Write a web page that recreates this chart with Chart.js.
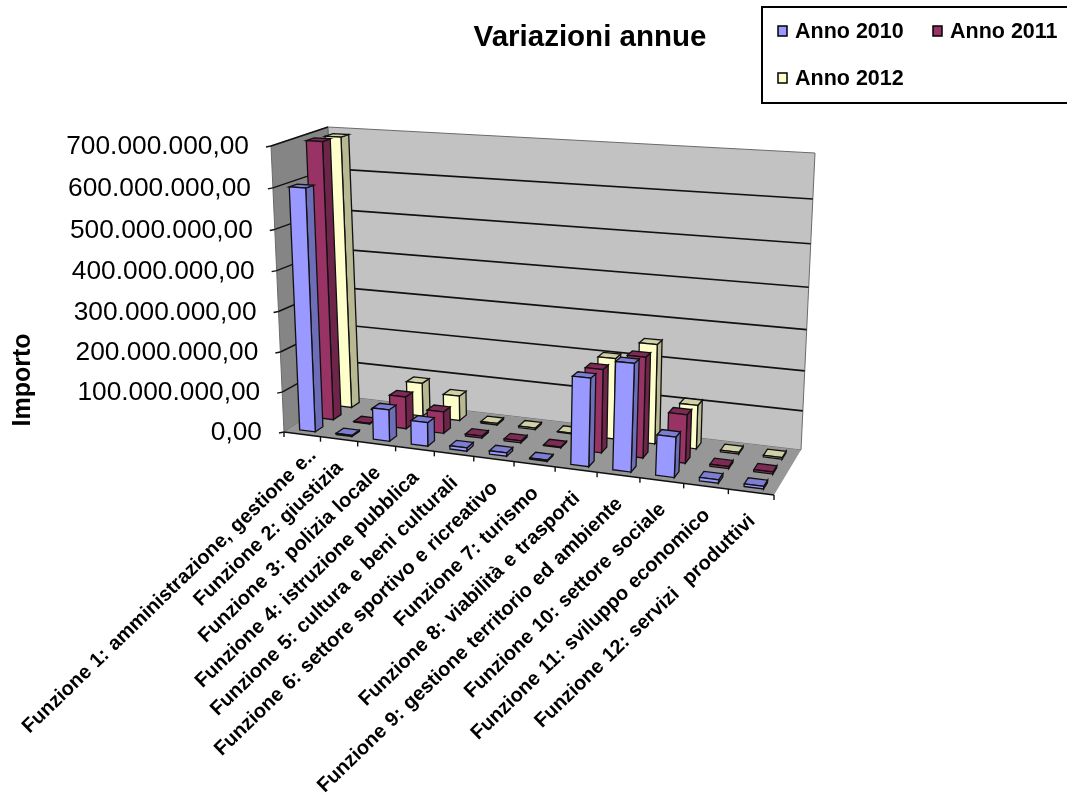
<!DOCTYPE html>
<html>
<head>
<meta charset="utf-8">
<title>Variazioni annue</title>
<script src="https://cdn.jsdelivr.net/npm/chart.js@4"></script>
<style>
    html, body { margin: 0; padding: 0; background: #fff; overflow: hidden; }
    #box { position: relative; width: 1067px; height: 805px; }
    canvas { filter: blur(0.5px); }
</style>
</head>
<body>
<div id="box"><canvas id="grafico" width="1067" height="805"></canvas></div>
<script>
const categorie = [
    'Funzione 1: amministrazione, gestione e..',
    'Funzione 2: giustizia',
    'Funzione 3: polizia locale',
    'Funzione 4: istruzione pubblica',
    'Funzione 5: cultura e beni culturali',
    'Funzione 6: settore sportivo e ricreativo',
    'Funzione 7: turismo',
    'Funzione 8: viabilità e trasporti',
    'Funzione 9: gestione territorio ed ambiente',
    'Funzione 10: settore sociale',
    'Funzione 11: sviluppo economico',
    'Funzione 12: servizi  produttivi'
];
const anno2010 = [600000000, 3000000, 78000000, 58000000, 8000000, 8000000, 3000000, 210000000, 255000000, 95000000, 8000000, 6000000];
const anno2011 = [695000000, 2000000, 82000000, 55000000, 5000000, 5000000, 2000000, 205000000, 245000000, 118000000, 5000000, 5000000];
const anno2012 = [690000000, 2000000, 88000000, 65000000, 4000000, 4000000, 2000000, 205000000, 250000000, 110000000, 4000000, 4000000];
const tickLabels = ['0,00', '100.000.000,00', '200.000.000,00', '300.000.000,00', '400.000.000,00', '500.000.000,00', '600.000.000,00', '700.000.000,00'];

const FONT = '"Liberation Sans", Arial, sans-serif';

// angoli della scatola 3D: f = davanti, b = dietro, l/r = sinistra/destra, 0 = pavimento, 1 = cima
const box3d = {
    fl0: [284, 432], fr0: [774, 495], bl0: [340, 396], br0: [801, 450],
    fl1: [271, 146], fr1: [793, 179], bl1: [328, 127], br1: [815, 153]
};
const prospettiva = 0.13;

function lerp(a, b, t) { return a + (b - a) * t; }

// u = lungo le categorie, w = profondità, v = altezza (tutti 0..1)
function proietta(u, w, v) {
    const uu = u / (1 + prospettiva * (1 - u));
    const cv = 0.03 + 0.07 * w;
    const vv = v / (1 + cv * (1 - v));
    const punto = [0, 1].map(i => {
        const f0 = lerp(box3d.fl0[i], box3d.fr0[i], uu);
        const b0 = lerp(box3d.bl0[i], box3d.br0[i], uu);
        const f1 = lerp(box3d.fl1[i], box3d.fr1[i], uu);
        const b1 = lerp(box3d.bl1[i], box3d.br1[i], uu);
        return lerp(lerp(f0, b0, w), lerp(f1, b1, w), vv);
    });
    return punto;
}

function scurisci(hex, k) {
    const n = parseInt(hex.slice(1), 16);
    const r = Math.round((n >> 16 & 255) * k), g = Math.round((n >> 8 & 255) * k), b = Math.round((n & 255) * k);
    return `rgb(${r},${g},${b})`;
}

function quad(ctx, pts, fill, stroke, lw) {
    ctx.beginPath();
    pts.forEach((p, i) => i ? ctx.lineTo(p[0], p[1]) : ctx.moveTo(p[0], p[1]));
    ctx.closePath();
    if (fill) { ctx.fillStyle = fill; ctx.fill(); }
    if (stroke) { ctx.strokeStyle = stroke; ctx.lineWidth = lw || 1; ctx.stroke(); }
}

function linea(ctx, a, b, color, lw) {
    ctx.beginPath();
    ctx.moveTo(a[0], a[1]);
    ctx.lineTo(b[0], b[1]);
    ctx.strokeStyle = color;
    ctx.lineWidth = lw;
    ctx.stroke();
}

const grafico3d = {
    id: 'grafico3d',
    beforeDatasetsDraw(chart) {
        const ctx = chart.ctx;
        const xs = chart.scales.x, ys = chart.scales.y;
        ctx.save();

        // pareti e pavimento
        quad(ctx, [proietta(0, 0, 0), proietta(0, 1, 0), proietta(0, 1, 1), proietta(0, 0, 1)], '#858585', '#6a6a6a');
        quad(ctx, [proietta(0, 1, 0), proietta(1, 1, 0), proietta(1, 1, 1), proietta(0, 1, 1)], '#c2c2c2', '#6a6a6a');
        quad(ctx, [proietta(0, 0, 0), proietta(1, 0, 0), proietta(1, 1, 0), proietta(0, 1, 0)], '#979797');

        // griglia e tacche asse valori
        ys.ticks.forEach((t, i) => {
            const v = (ys.bottom - ys.getPixelForValue(t.value)) / ys.height;
            const a = proietta(0, 0, v), b = proietta(0, 1, v), c = proietta(1, 1, v);
            if (i > 0) {
                linea(ctx, a, b, '#111', 1.4);
                if (i < ys.ticks.length - 1) linea(ctx, b, c, '#111', 1.7);
            }
            linea(ctx, [a[0] - 5, a[1] + 1], a, '#111', 1.4);
            ctx.font = `26.3px ${FONT}`;
            ctx.fillStyle = '#000';
            ctx.textAlign = 'right';
            ctx.textBaseline = 'middle';
            ctx.fillText(tickLabels[i], a[0] - 22, a[1] + 1);
        });

        // asse categorie
        linea(ctx, proietta(0, 0, 0), proietta(1, 0, 0), '#111', 1.4);
        categorie.forEach((c, i) => {
            const p = proietta((xs.getPixelForValue(i) - xs.width / 24 - xs.left) / xs.width, 0, 0);
            linea(ctx, p, [p[0], p[1] + 5], '#111', 1.4);
        });
        const fine = proietta(1, 0, 0);
        linea(ctx, fine, [fine[0], fine[1] + 5], '#111', 1.4);

        ctx.font = `bold 20px ${FONT}`;
        ctx.wordSpacing = '1px';
        ctx.fillStyle = '#000';
        ctx.textAlign = 'right';
        ctx.textBaseline = 'middle';
        categorie.forEach((c, i) => {
            const p = proietta((xs.getPixelForValue(i) - xs.left) / xs.width, 0, 0);
            ctx.save();
            // la prima etichetta è troncata e finisce più in alto delle altre
            if (i === 0) ctx.translate(p[0] + 11, p[1] + 18);
            else ctx.translate(p[0] + 1, p[1] + 26);
            ctx.rotate(-44 * Math.PI / 180);
            ctx.fillText(c, 0, 0);
            ctx.restore();
        });
        ctx.wordSpacing = '0px';

        // barre: dalla serie in fondo a quella davanti
        const n = chart.data.datasets.length;
        for (let k = n - 1; k >= 0; k--) {
            const ds = chart.data.datasets[k];
            const w0 = (k + 0.5) / n - 0.07, w1 = (k + 0.5) / n + 0.07;
            chart.getDatasetMeta(k).data.forEach(el => {
                const u0 = (el.x - el.width / 2 - xs.left) / xs.width;
                const u1 = (el.x + el.width / 2 - xs.left) / xs.width;
                const v = (ys.bottom - el.y) / ys.height;
                quad(ctx, [proietta(u1, w0, 0), proietta(u1, w1, 0), proietta(u1, w1, v), proietta(u1, w0, v)], scurisci(ds.backgroundColor, 0.72), '#111', 1.3);
                quad(ctx, [proietta(u0, w0, v), proietta(u1, w0, v), proietta(u1, w1, v), proietta(u0, w1, v)], scurisci(ds.backgroundColor, 0.82), '#111', 1.3);
                quad(ctx, [proietta(u0, w0, 0), proietta(u1, w0, 0), proietta(u1, w0, v), proietta(u0, w0, v)], ds.backgroundColor, '#111', 1.3);
            });
        }

        // titolo, asse e legenda
        ctx.fillStyle = '#000';
        ctx.textAlign = 'center';
        ctx.font = `bold 29.5px ${FONT}`;
        ctx.fillText('Variazioni annue', 590, 38);
        ctx.save();
        ctx.translate(23, 380);
        ctx.rotate(-Math.PI / 2);
        ctx.font = `bold 25px ${FONT}`;
        ctx.fillText('Importo', 0, 0);
        ctx.restore();

        ctx.strokeStyle = '#000';
        ctx.lineWidth = 2;
        ctx.strokeRect(762, 7, 310, 96);
        const posti = [[778, 31], [933, 31], [778, 78]];
        ctx.textAlign = 'left';
        ctx.font = `bold 21.5px ${FONT}`;
        chart.data.datasets.forEach((ds, k) => {
            const [x, y] = posti[k];
            ctx.fillStyle = ds.backgroundColor;
            ctx.lineWidth = 1.5;
            ctx.fillRect(x, y - 5, 9, 10);
            ctx.strokeRect(x, y - 5, 9, 10);
            ctx.fillStyle = '#000';
            ctx.fillText(ds.label, x + 17, y + 1);
        });

        ctx.restore();
        return false; // le barre piatte standard non servono
    }
};

new Chart(document.getElementById('grafico'), {
    type: 'bar',
    data: {
        labels: categorie,
        datasets: [
            { label: 'Anno 2010', data: anno2010, backgroundColor: '#9999FF' },
            { label: 'Anno 2011', data: anno2011, backgroundColor: '#993366' },
            { label: 'Anno 2012', data: anno2012, backgroundColor: '#FFFFCC' }
        ]
    },
    options: {
        responsive: false,
        animation: false,
        grouped: false,
        barPercentage: 0.43,
        categoryPercentage: 1,
        plugins: { legend: { display: false }, tooltip: { enabled: false } },
        scales: {
            x: { display: false },
            y: { display: false, min: 0, max: 700000000, ticks: { stepSize: 100000000 } }
        }
    },
    plugins: [grafico3d]
});
</script>
</body>
</html>
